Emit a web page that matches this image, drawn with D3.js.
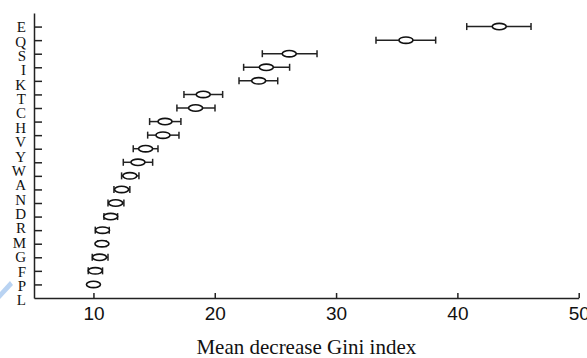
<!DOCTYPE html>
<html>
<head>
<meta charset="utf-8">
<script src="https://cdn.jsdelivr.net/npm/d3@7"></script>
<style>
  body { margin: 0; background: #fff; }
  svg { display: block; font-family: "Liberation Serif", "DejaVu Serif", serif; }
</style>
</head>
<body>
<svg id="chart" width="587" height="358"></svg>
<script>
// amino acids, top to bottom
const residues = ["E","Q","S","I","K","T","C","H","V","Y","W","A","N","D","R","M","G","F","P","L"];
// mean decrease Gini index and its interval
const means = [43.45,35.76,26.14,24.25,23.62,19.05,18.42,15.9,15.73,14.3,13.67,13.0,12.32,11.83,11.42,10.75,10.7,10.5,10.15,10.0];
const lows  = [40.77,33.29,23.92,22.38,22.0,17.46,16.88,14.63,14.47,13.28,12.46,12.32,11.69,11.2,10.87,10.15,10.35,9.9,9.57,9.7];
const highs = [46.07,38.21,28.43,26.17,25.19,20.65,20.02,17.21,17.05,15.32,14.88,13.75,13.0,12.51,11.99,11.3,11.05,11.2,10.75,10.3];
const xTicks = [10,20,30,40,50];

const svg = d3.select("#chart");
const margin = {top: 13, right: 8, bottom: 60, left: 34};
const width = +svg.attr("width"), height = +svg.attr("height");

const data = residues.map((r, i) => ({r, m: means[i], lo: lows[i], hi: highs[i]}));

const x = d3.scaleLinear().domain([5.1, 50]).range([margin.left, 578.7]);
const y = d3.scalePoint().domain(residues).range([margin.top, height - margin.bottom]).padding(1);
// the label column is spaced a little wider than the ticks in the original
const yLab = d3.scalePoint().domain(residues).range([27, 300]);

// Axes
const xAxis = svg.append("g")
  .attr("transform", `translate(0,${height - margin.bottom})`)
  .call(d3.axisBottom(x).tickValues(xTicks).tickSizeInner(-5).tickSizeOuter(0).tickPadding(9));
xAxis.selectAll("text").attr("font-size", "19px").attr("fill", "#111").attr("font-family", null);

const yAxis = svg.append("g")
  .attr("transform", `translate(${margin.left},0)`)
  .call(d3.axisLeft(y).tickSizeInner(-8).tickSizeOuter(0).tickFormat(""));

svg.selectAll(".domain, .tick line").attr("stroke", "#222").attr("stroke-width", 1.5);

svg.append("g").selectAll("text")
  .data(residues)
  .enter()
  .append("text")
  .attr("x", 26)
  .attr("y", d => yLab(d))
  .attr("dy", "0.35em")
  .attr("text-anchor", "end")
  .attr("font-size", "15px")
  .attr("fill", "#111")
  .text(d => d);

svg.append("text")
  .attr("x", (margin.left + 578.7) / 2)
  .attr("y", 354)
  .attr("text-anchor", "middle")
  .attr("font-size", "21px")
  .attr("fill", "#111")
  .text("Mean decrease Gini index");

// Error bars
const bars = svg.append("g").attr("stroke", "#222").attr("stroke-width", 1.5);
bars.selectAll("line.bar")
  .data(data)
  .enter()
  .append("line")
  .attr("class", "bar")
  .attr("x1", d => x(d.lo))
  .attr("x2", d => x(d.hi))
  .attr("y1", d => y(d.r))
  .attr("y2", d => y(d.r));

["lo", "hi"].forEach(k => {
  bars.selectAll("line.cap-" + k)
    .data(data)
    .enter()
    .append("line")
    .attr("class", "cap-" + k)
    .attr("x1", d => x(d[k]))
    .attr("x2", d => x(d[k]))
    .attr("y1", d => y(d.r) - 3.5)
    .attr("y2", d => y(d.r) + 3.5);
});

// Points
svg.append("g").selectAll("ellipse")
  .data(data)
  .enter()
  .append("ellipse")
  .attr("cx", d => x(d.m))
  .attr("cy", d => y(d.r))
  .attr("rx", 7)
  .attr("ry", 3.2)
  .attr("fill", "#fff")
  .attr("stroke", "#111")
  .attr("stroke-width", 1.6);

// faint watermark stroke at the lower left
svg.append("path")
  .attr("d", "M0,292 L10,281 L13,285 L0,299 Z")
  .attr("fill", "#b9d3f2");
</script>
</body>
</html>
